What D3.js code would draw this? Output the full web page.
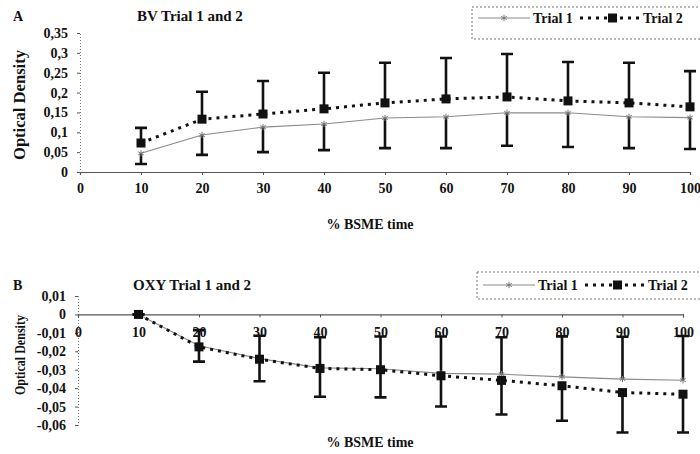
<!DOCTYPE html>
<meta charset="utf-8">
<style>
body { margin: 0; background: #fff; }
text { font-family: "Liberation Serif", "Times New Roman", serif; font-weight: bold; fill: #111; }
</style>
<body>
<svg id="chart" width="700" height="454"></svg>
<script src="https://d3js.org/d3.v7.min.js"></script>
<script>

// x values (% BSME time)
var times = [10, 20, 30, 40, 50, 60, 70, 80, 90, 100];
var xTicks = [0, 10, 20, 30, 40, 50, 60, 70, 80, 90, 100];

// panel A: BV
var bvTrial1 = [0.047, 0.093, 0.113, 0.121, 0.136, 0.139, 0.149, 0.149, 0.139, 0.137];
var bvTrial1Err = [0.027, 0.050, 0.063, 0.066, 0.076, 0.079, 0.083, 0.086, 0.079, 0.079];
var bvTrial2 = [0.073, 0.133, 0.146, 0.159, 0.174, 0.184, 0.189, 0.179, 0.174, 0.164];
var bvTrial2Err = [0.038, 0.069, 0.083, 0.091, 0.101, 0.103, 0.108, 0.098, 0.101, 0.090];
var bvTicks = [0, 0.05, 0.1, 0.15, 0.2, 0.25, 0.3, 0.35];

// panel B: OXY
var oxyTrial1 = [0, -0.017, -0.024, -0.029, -0.0295, -0.032, -0.0324, -0.0339, -0.0351, -0.0357];
var oxyTrial1Err = [0, 0.0085, 0.0124, 0.0166, 0.0175, 0.020, 0.020, 0.022, 0.023, 0.024];
var oxyTrial2 = [0, -0.0176, -0.0243, -0.0293, -0.0300, -0.0333, -0.0358, -0.0387, -0.0424, -0.0433];
var oxyTrial2Err = [0, 0.008, 0.012, 0.0154, 0.015, 0.0167, 0.0185, 0.019, 0.0217, 0.0208];
var oxyTicks = [-0.06, -0.05, -0.04, -0.03, -0.02, -0.01, 0, 0.01];

var legendNames = ["Trial 1", "Trial 2"];

var svg = d3.select("#chart");
svg.append("rect").attr("width", 700).attr("height", 454).attr("fill", "#fff");

// comma as decimal mark
function fmt(d) { return String(+d.toFixed(3)).replace(".", ","); }

function drawPanel(p) {
  var g = svg.append("g");
  var x = d3.scaleLinear().domain([0, 100]).range(p.xRange);
  var y = d3.scaleLinear().domain(p.yDomain).range(p.yRange);

  // y axis
  var ya = g.append("g")
      .attr("transform", "translate(" + x(0) + ",0)")
      .call(d3.axisLeft(y).tickValues(p.yTicks).tickSize(3).tickPadding(9).tickFormat(fmt));
  ya.select(".domain").attr("stroke", "#777").attr("stroke-dasharray", "1,2");
  ya.selectAll(".tick line").attr("stroke", "#555");
  ya.selectAll("text").attr("font-size", 14).attr("font-family", null).attr("fill", "#111");

  // x axis at zero
  var xa = g.append("g")
      .attr("transform", "translate(0," + y(0) + ")")
      .call(d3.axisBottom(x).tickValues(xTicks).tickSize(3).tickPadding(p.xPad).tickFormat(d3.format("d")));
  xa.select(".domain").attr("stroke", "#555").attr("stroke-width", 1.2);
  xa.selectAll(".tick line").attr("stroke", "#555");
  xa.selectAll("text").attr("font-size", 14).attr("font-family", null).attr("fill", "#111");

  var cap = 6;
  // trial 1 error bars
  g.append("g").selectAll("path").data(times).enter().append("path")
      .attr("d", function(t, i) {
        var x0 = x(t), y0 = y(p.t1[i]), y1 = y(p.t1[i] + p.t1Dir * p.t1Err[i]);
        return "M" + x0 + "," + y0 + "V" + y1 + "M" + (x0 - cap) + "," + y1 + "H" + (x0 + cap);
      })
      .attr("stroke", "#111").attr("stroke-width", 2.6).attr("fill", "none");
  // trial 2 error bars
  g.append("g").selectAll("path").data(times).enter().append("path")
      .attr("d", function(t, i) {
        var x0 = x(t), y0 = y(p.t2[i]), y1 = y(p.t2[i] + p.t2Dir * p.t2Err[i]);
        return "M" + x0 + "," + y0 + "V" + y1 + "M" + (x0 - cap) + "," + y1 + "H" + (x0 + cap);
      })
      .attr("stroke", "#111").attr("stroke-width", 2.6).attr("fill", "none");

  var line = d3.line().x(function(d) { return x(d[0]); }).y(function(d) { return y(d[1]); });

  // trial 1: thin grey line
  g.append("path")
      .datum(d3.zip(times, p.t1))
      .attr("d", line)
      .attr("fill", "none").attr("stroke", "#8a8a8a").attr("stroke-width", 1.1);
  g.append("g").selectAll("path").data(d3.zip(times, p.t1)).enter().append("path")
      .attr("transform", function(d) { return "translate(" + x(d[0]) + "," + y(d[1]) + ")"; })
      .attr("d", d3.symbol(d3.symbolAsterisk, 28))
      .attr("fill", "none").attr("stroke", "#777").attr("stroke-width", 1);

  // trial 2: dotted black line with squares
  g.append("path")
      .datum(d3.zip(times, p.t2))
      .attr("d", line)
      .attr("fill", "none").attr("stroke", "#111").attr("stroke-width", 3)
      .attr("stroke-dasharray", "3,5");
  g.append("g").selectAll("rect").data(d3.zip(times, p.t2)).enter().append("rect")
      .attr("x", function(d) { return x(d[0]) - 4.5; })
      .attr("y", function(d) { return y(d[1]) - 4.5; })
      .attr("width", 9).attr("height", 9).attr("fill", "#111");

  // panel letter and title
  g.append("text").attr("x", 13).attr("y", p.titleY).attr("dy", "0.35em")
      .attr("font-size", 14).text(p.letter);
  g.append("text").attr("x", p.titleX).attr("y", p.titleY).attr("dy", "0.35em")
      .attr("font-size", 15).text(p.title);

  // axis titles
  g.append("text")
      .attr("transform", "translate(" + 25 + "," + p.yTitleY + ") rotate(-90)")
      .attr("text-anchor", "middle").attr("font-size", p.yTitleSize)
      .attr("textLength", p.yTitleLen).attr("lengthAdjust", "spacingAndGlyphs")
      .text("Optical Density");
  g.append("text").attr("x", 370).attr("y", p.xTitleY).attr("dy", "0.35em")
      .attr("text-anchor", "middle").attr("font-size", 14).text("% BSME time");

  // legend
  var lg = g.append("g").attr("transform", "translate(" + p.legX + "," + p.legY + ")");
  lg.append("rect").attr("width", 240).attr("height", p.legH)
      .attr("fill", "none").attr("stroke", "#777").attr("stroke-dasharray", "2,2");
  var cy = p.legTextY;
  lg.append("line").attr("x1", 6).attr("x2", 58).attr("y1", cy).attr("y2", cy)
      .attr("stroke", "#8a8a8a").attr("stroke-width", 1.1);
  lg.append("path").attr("transform", "translate(32," + cy + ")")
      .attr("d", d3.symbol(d3.symbolAsterisk, 28)).attr("stroke", "#777").attr("fill", "none");
  lg.append("text").attr("x", 61).attr("y", cy).attr("dy", "0.35em").attr("font-size", 14).text(legendNames[0]);
  lg.append("line").attr("x1", 108).attr("x2", 170).attr("y1", cy).attr("y2", cy)
      .attr("stroke", "#111").attr("stroke-width", 3).attr("stroke-dasharray", "3,5");
  lg.append("rect").attr("x", 136).attr("y", cy - 4.5).attr("width", 9).attr("height", 9).attr("fill", "#111");
  lg.append("text").attr("x", 171).attr("y", cy).attr("dy", "0.35em").attr("font-size", 14).text(legendNames[1]);
}

drawPanel({
  letter: "A", title: "BV Trial 1 and 2", titleX: 137, titleY: 16,
  xRange: [80, 690], yDomain: [0, 0.35], yRange: [172, 33], yTicks: bvTicks, xPad: 8,
  t1: bvTrial1, t1Err: bvTrial1Err, t1Dir: -1,
  t2: bvTrial2, t2Err: bvTrial2Err, t2Dir: 1,
  yTitleY: 105, yTitleSize: 16, yTitleLen: 110, xTitleY: 224,
  legX: 472, legY: 7, legH: 32, legTextY: 11
});

drawPanel({
  letter: "B", title: "OXY Trial 1 and 2", titleX: 133, titleY: 285,
  xRange: [78, 683], yDomain: [-0.06, 0.01], yRange: [425, 296], yTicks: oxyTicks, xPad: 10,
  t1: oxyTrial1, t1Err: oxyTrial1Err, t1Dir: 1,
  t2: oxyTrial2, t2Err: oxyTrial2Err, t2Dir: -1,
  yTitleY: 355, yTitleSize: 15, yTitleLen: 80, xTitleY: 442,
  legX: 477, legY: 272, legH: 27, legTextY: 13
});

</script>
</body>
